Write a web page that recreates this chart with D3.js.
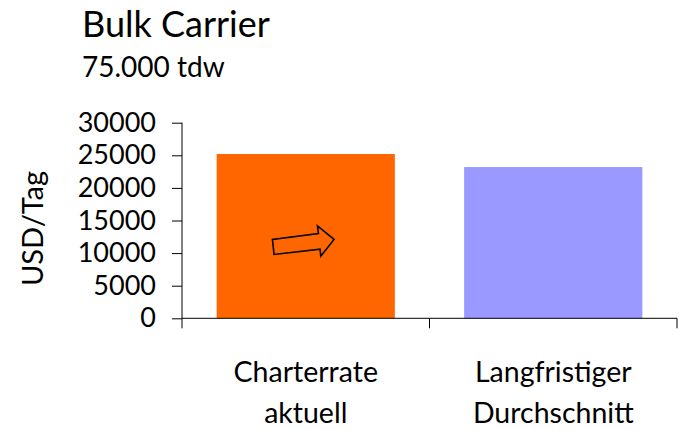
<!DOCTYPE html>
<html><head><meta charset="utf-8">
<script src="https://cdn.jsdelivr.net/npm/d3@7"></script>
<style>
html,body{margin:0;padding:0;background:#fff;}
text{font-family:Lato,"Open Sans",sans-serif;fill:#000;}
</style></head>
<body>
<svg id="chart" width="687" height="430"></svg>
<script>
const categories = [["Charterrate","aktuell"],["Langfristiger","Durchschnitt"]];
const values = [25200, 23200];
const colors = ["#FF6600", "#9999FF"];
const yTicks = [0,5000,10000,15000,20000,25000,30000];
const title = "Bulk Carrier";
const subtitle = "75.000 tdw";
const yLabel = "USD/Tag";

const svg = d3.select("#chart");
const mLeft = 182, mRight = 677, mTop = 122.7, mBottom = 318.3;

const x = d3.scaleBand().domain(d3.range(categories.length)).range([mLeft, mRight]).paddingInner(0.28).paddingOuter(0.14);
const xb = d3.scaleBand().domain(d3.range(categories.length)).range([mLeft, mRight]);
const y = d3.scaleLinear().domain([0, 30000]).range([mBottom, mTop]);

// bars
svg.selectAll("rect.bar").data(values).join("rect")
  .attr("class","bar")
  .attr("x",(d,i)=>x(i)).attr("width",x.bandwidth())
  .attr("y",d=>y(d)).attr("height",d=>mBottom-y(d))
  .attr("fill",(d,i)=>colors[i]);

// y axis
const yAxis = d3.axisLeft(y).tickValues(yTicks).tickSize(10).tickPadding(16).tickFormat(d3.format("d"));
const gy = svg.append("g").attr("transform",`translate(${mLeft},0)`).call(yAxis);
gy.select(".domain").remove();
gy.selectAll(".tick line").attr("stroke","#000");
gy.selectAll(".tick text").style("font-size","27px").style("font-family","Lato").attr("fill","#000");
svg.append("line").attr("x1",mLeft).attr("x2",mLeft).attr("y1",mTop).attr("y2",mBottom+10).attr("stroke","#000");

// x axis
svg.append("line").attr("x1",mLeft).attr("x2",mRight).attr("y1",mBottom).attr("y2",mBottom).attr("stroke","#000");
const bounds = d3.range(categories.length+1).map(i => i < categories.length ? xb(i) : xb(i-1)+xb.bandwidth());
svg.selectAll("line.xt").data(bounds.slice(1)).join("line")
  .attr("class","xt").attr("x1",d=>d).attr("x2",d=>d).attr("y1",mBottom).attr("y2",mBottom+10).attr("stroke","#000");

// x labels
const lbl = svg.selectAll("text.xl").data(categories).join("text")
  .attr("class","xl").attr("text-anchor","middle").style("font-size","28.5px")
  .attr("transform",(d,i)=>`translate(${x(i)+x.bandwidth()/2},0)`);
lbl.selectAll("tspan").data(d=>d).join("tspan")
  .attr("x",0).attr("y",(d,j)=>381.7 + j*41.6).text(d=>d);

// y label
svg.append("text").attr("transform",`translate(43,${(mTop+mBottom)/2+8}) rotate(-90)`)
  .attr("text-anchor","middle").style("font-size","29px").text(yLabel);

// title
svg.append("text").attr("x",82).attr("y",36.7).style("font-size","36px").text(title);
svg.append("text").attr("x",82).attr("y",76.7).style("font-size","28px").text(subtitle);

// arrow annotation inside first bar
const cx = x(0)+x.bandwidth()/2 - 3, cy = y(values[0]/2) + 5;
const arrowPts = [[-30.3,-1.7],[-28.7,13.3],[17.3,8],[18,15],[31.3,-1.7],[14.7,-15.3],[15.7,-7.7]];
svg.append("polygon")
  .attr("points", arrowPts.map(p=>[cx+p[0], cy+p[1]].join(",")).join(" "))
  .attr("fill","none").attr("stroke","#000").attr("stroke-width",1.6).attr("stroke-linejoin","miter");
</script>
</body></html>
